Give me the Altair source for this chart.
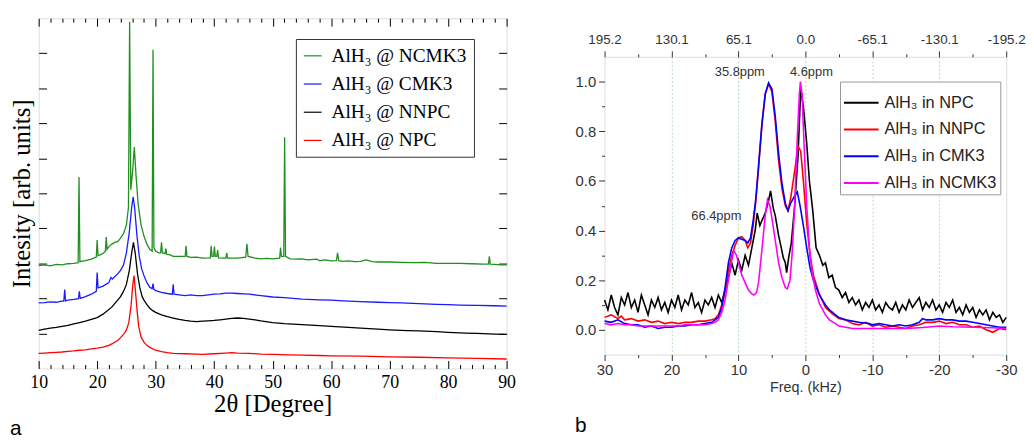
import altair as alt
import pandas as pd

# ---------------- Panel a : XRD patterns ----------------
xrd_names = ["AlH₃ @ NCMK3", "AlH₃ @ CMK3", "AlH₃ @ NNPC", "AlH₃ @ NPC"]
xrd_colors = ["#1f8f1f", "#1a1aff", "#000000", "#ff0000"]

ncmk3_x = [10, 11, 12, 13, 14, 15, 16, 16.75, 16.9, 17.05, 18, 19, 19.85, 20.0, 20.15, 21, 21.4, 21.55, 21.7,
           22, 22.5, 23, 23.5, 24, 24.5, 25, 25.35, 25.55, 25.75, 26.05, 26.35, 26.65, 27, 27.5, 28, 28.5, 29,
           29.4, 29.55, 29.7, 30, 30.5, 30.85, 31.0, 31.15, 31.6, 31.75, 31.9, 32.5, 33, 34, 35.05, 35.2, 35.35,
           36, 37, 38, 39.35, 39.5, 39.65, 39.9, 40.05, 40.2, 40.45, 40.6, 40.75, 41.5, 42.0, 42.15, 42.3, 43, 44,
           45.4, 45.6, 45.8, 47, 48, 49, 50, 51.2, 51.35, 51.5, 51.9, 52.05, 52.2, 53, 54, 55, 56, 57.5, 58, 59,
           60, 60.9, 61.1, 61.3, 62, 63, 64, 65, 66, 67, 68, 70, 72, 74, 76, 78, 80, 82, 84, 86, 86.9, 87.05,
           87.2, 88, 89, 90]
ncmk3_y = [2.94, 2.96, 2.93, 2.97, 2.96, 2.99, 3.0, 3.02, 5.47, 3.05, 3.08, 3.12, 3.18, 3.67, 3.22, 3.28, 3.35,
           3.75, 3.4, 3.48, 3.55, 3.6, 3.62, 3.72, 3.85, 4.1, 4.6, 9.9, 5.1, 5.6, 6.32, 5.5, 4.7, 4.1, 3.78, 3.55,
           3.4, 3.35, 9.1, 3.45, 3.35, 3.3, 3.3, 3.6, 3.3, 3.28, 3.42, 3.26, 3.24, 3.2, 3.2, 3.2, 3.5, 3.2, 3.17,
           3.18, 3.15, 3.16, 3.5, 3.2, 3.2, 3.48, 3.2, 3.2, 3.38, 3.16, 3.15, 3.15, 3.3, 3.15, 3.15, 3.15, 3.18,
           3.56, 3.2, 3.15, 3.13, 3.14, 3.13, 3.15, 3.45, 3.2, 3.2, 6.6, 3.2, 3.13, 3.12, 3.13, 3.1, 3.12, 3.08,
           3.1, 3.07, 3.08, 3.3, 3.08, 3.06, 3.07, 3.05, 3.06, 3.1, 3.05, 3.04, 3.04, 3.03, 3.02, 3.03, 3.0, 3.0,
           3.0, 2.99, 2.98, 2.98, 3.2, 2.98, 2.97, 2.96, 2.96]

cmk3_x = [10, 11, 12, 13, 14, 14.3, 14.45, 14.6, 15, 16, 16.8, 16.95, 17.1, 18, 19, 19.85, 20.0, 20.15, 21, 22,
          22.35, 22.6, 23, 23.5, 24, 24.5, 25, 25.5, 25.9, 26.15, 26.4, 26.8, 27.2, 27.6, 28, 28.5, 29, 29.4,
          29.55, 29.7, 30, 31, 32, 32.85, 33.0, 33.15, 34, 35, 36, 37, 38, 39, 40, 41, 42, 43, 44, 45, 46, 48,
          50, 52, 55, 58, 60, 62, 65, 68, 70, 72, 75, 78, 80, 82, 85, 88, 90]
cmk3_y = [1.87, 1.88, 1.9, 1.89, 1.92, 1.92, 2.25, 1.93, 1.95, 1.97, 1.99, 2.2, 2.0, 2.05, 2.12, 2.2, 2.74, 2.3,
          2.35, 2.45, 2.6, 2.55, 2.62, 2.7, 2.8, 2.95, 3.3, 3.9, 4.6, 4.9, 4.6, 3.8, 3.2, 2.85, 2.65, 2.45, 2.32,
          2.28, 2.42, 2.26, 2.22, 2.17, 2.14, 2.12, 2.4, 2.12, 2.1, 2.08, 2.1, 2.08, 2.08, 2.1, 2.12, 2.13, 2.15,
          2.15, 2.14, 2.13, 2.12, 2.08, 2.04, 2.02, 1.98, 1.96, 1.95, 1.93, 1.91, 1.89, 1.88, 1.87, 1.85, 1.83,
          1.82, 1.81, 1.8, 1.79, 1.78]

nnpc_x = [10, 11, 12, 13, 14, 15, 16, 17, 18, 19, 20, 21, 22, 22.5, 23, 23.5, 24, 24.5, 25, 25.5, 25.9, 26.2,
          26.5, 26.9, 27.3, 27.7, 28, 28.5, 29, 29.5, 30, 31, 32, 33, 34, 35, 36, 37, 38, 39, 40, 41, 42, 43, 44,
          45, 46, 47, 48, 50, 52, 55, 58, 60, 63, 65, 68, 70, 73, 75, 78, 80, 83, 85, 88, 90]
nnpc_y = [1.09, 1.12, 1.15, 1.17, 1.2, 1.23, 1.27, 1.31, 1.35, 1.4, 1.45, 1.55, 1.68, 1.75, 1.85, 1.95, 2.05, 2.2,
          2.4, 2.8, 3.3, 3.6, 3.3, 2.7, 2.3, 2.05, 1.95, 1.82, 1.72, 1.65, 1.6, 1.53, 1.48, 1.44, 1.4, 1.37, 1.35,
          1.34, 1.35, 1.36, 1.37, 1.39, 1.41, 1.43, 1.44, 1.43, 1.41, 1.39, 1.36, 1.31, 1.28, 1.25, 1.22, 1.2,
          1.17, 1.15, 1.12, 1.1, 1.08, 1.07, 1.05, 1.03, 1.01, 1.0, 0.98, 0.97]

npc_x = [10, 11, 12, 13, 14, 15, 16, 17, 18, 19, 20, 21, 22, 22.5, 23, 23.5, 24, 24.5, 25, 25.4, 25.8, 26.1, 26.3,
         26.5, 26.8, 27.1, 27.5, 28, 28.5, 29, 30, 31, 32, 33, 35, 37, 38, 40, 42, 43, 44, 46, 48, 50, 53, 55,
         58, 60, 65, 70, 75, 80, 85, 90]
npc_y = [0.43, 0.44, 0.45, 0.46, 0.47, 0.49, 0.5, 0.52, 0.53, 0.56, 0.58, 0.61, 0.66, 0.7, 0.75, 0.8, 0.88, 0.97,
         1.1, 1.3, 1.8, 2.4, 2.65, 2.3, 1.7, 1.2, 0.9, 0.75, 0.66, 0.6, 0.52, 0.48, 0.45, 0.43, 0.42, 0.41, 0.4,
         0.42, 0.44, 0.45, 0.44, 0.43, 0.41, 0.4, 0.39, 0.38, 0.37, 0.36, 0.35, 0.33, 0.32, 0.3, 0.29, 0.27]

# ---------------- Panel b : 27Al NMR ----------------
nmr_names = ["AlH₃ in NPC", "AlH₃ in NNPC", "AlH₃ in CMK3", "AlH₃ in NCMK3"]
nmr_colors = ["#000000", "#ff0000", "#0000ff", "#ff00ff"]

npc_b_x = [30, 29.5, 29, 28.5, 28, 27.5, 27, 26.5, 26, 25.5, 25, 24.5, 24, 23.5, 23, 22.5, 22, 21.5, 21, 20.5, 20,
           19.5, 19, 18.5, 18, 17.5, 17, 16.5, 16, 15.5, 15, 14.5, 14, 13.5, 13, 12.5, 12, 11.5, 11, 10.5, 10,
           9.5, 9, 8.5, 8, 7.5, 7.2, 6.8, 6.5, 6, 5.5, 5.2, 4.8, 4.5, 4, 3.6, 3.3, 3, 2.8, 2.5, 2.1, 1.6, 1.1,
           0.7, 0.3, -0.2, -0.6, -1.1, -1.6, -2.1, -2.6, -3, -3.5, -4, -4.5, -5, -5.5, -6, -6.5, -7, -7.5, -8,
           -8.5, -9, -9.5, -10, -10.5, -11, -11.5, -12, -12.5, -13, -13.5, -14, -14.5, -15, -15.5, -16, -16.5,
           -17, -17.5, -18, -18.5, -19, -19.5, -20, -20.5, -21, -21.5, -22, -22.5, -23, -23.5, -24, -24.5, -25,
           -25.5, -26, -26.5, -27, -27.5, -28, -28.5, -29, -29.5, -30]
npc_b_y = [0.12, 0.08, 0.14, 0.09, 0.06, 0.13, 0.1, 0.15, 0.09, 0.12, 0.07, 0.14, 0.1, 0.06, 0.12, 0.09, 0.13,
           0.08, 0.11, 0.07, 0.12, 0.09, 0.14, 0.08, 0.12, 0.1, 0.15, 0.09, 0.11, 0.07, 0.12, 0.1, 0.13, 0.09,
           0.14, 0.11, 0.16, 0.21, 0.27, 0.22, 0.28, 0.24, 0.3, 0.26, 0.33, 0.4, 0.47, 0.42, 0.44, 0.47, 0.52,
           0.56, 0.49, 0.46, 0.38, 0.33, 0.29, 0.27, 0.23, 0.29, 0.35, 0.5, 0.7, 0.97, 0.9, 0.75, 0.6, 0.48,
           0.33, 0.3, 0.26, 0.27, 0.21, 0.22, 0.17, 0.16, 0.13, 0.15, 0.11, 0.13, 0.1, 0.12, 0.08, 0.11, 0.09,
           0.12, 0.08, 0.1, 0.07, 0.11, 0.09, 0.08, 0.11, 0.07, 0.1, 0.08, 0.12, 0.09, 0.11, 0.13, 0.08, 0.11,
           0.09, 0.12, 0.08, 0.1, 0.07, 0.11, 0.09, 0.12, 0.07, 0.09, 0.06, 0.1, 0.07, 0.09, 0.05, 0.08, 0.06,
           0.08, 0.04, 0.07, 0.05, 0.06, 0.03, 0.05]

nnpc_b_x = [30, 29, 28, 27.5, 27, 26, 25, 24, 23, 22, 21, 20, 19, 18, 17, 16, 15, 14, 13.5, 13, 12.5, 12, 11.5, 11,
            10.5, 10, 9.5, 9, 8.6, 8.2, 7.8, 7.4, 7, 6.5, 6, 5.5, 5, 4.5, 4, 3.5, 3, 2.6, 2.2, 1.6, 1.1, 0.7, 0.3,
            -0.2, -0.7, -1.2, -2, -2.5, -3, -4, -5, -6, -7, -8, -9, -10, -11, -12, -13, -14, -15, -16, -17, -18,
            -19, -20, -21, -22, -23, -24, -25, -26, -27, -28, -29, -30]
nnpc_b_y = [0.05, 0.06, 0.045, 0.055, 0.04, 0.045, 0.035, 0.04, 0.03, 0.035, 0.025, 0.03, 0.025, 0.03, 0.03, 0.035,
            0.035, 0.04, 0.045, 0.06, 0.1, 0.15, 0.24, 0.3, 0.34, 0.37, 0.375, 0.36, 0.33, 0.35, 0.42, 0.52, 0.65,
            0.82, 0.95, 0.99, 0.96, 0.84, 0.68, 0.57, 0.5, 0.48, 0.53, 0.64, 0.74, 0.72, 0.6, 0.43, 0.3, 0.22,
            0.15, 0.12, 0.09, 0.065, 0.045, 0.04, 0.025, 0.02, 0.03, 0.015, 0.02, 0.01, 0.015, 0.01, 0.005, 0.015,
            0.02, 0.03, 0.03, 0.035, 0.025, 0.03, 0.02, 0.02, 0.01, 0.015, 0.0, -0.01, 0.005, 0.0]

cmk3_b_x = [30, 29, 28, 27, 26, 25, 24, 23, 22, 21, 20, 19, 18, 17, 16, 15, 14, 13.5, 13, 12.5, 12, 11.5, 11, 10.5,
            10, 9.5, 9, 8.6, 8.2, 7.8, 7.4, 7, 6.5, 6, 5.5, 5, 4.5, 4, 3.5, 3, 2.6, 2.2, 1.6, 1.2, 0.8, 0.3, -0.2,
            -0.7, -1.2, -2.1, -3, -3.6, -4.5, -5, -6, -7, -8, -9.5, -10, -11, -12, -13, -14, -15, -16, -17, -17.5,
            -18, -19, -20, -21, -22, -23, -24, -25, -26, -27, -28, -29, -30]
cmk3_b_y = [0.035, 0.03, 0.04, 0.025, 0.02, 0.02, 0.01, 0.015, 0.005, 0.01, 0.01, 0.015, 0.015, 0.02, 0.02, 0.025,
            0.03, 0.04, 0.05, 0.09, 0.17, 0.27, 0.33, 0.36, 0.37, 0.365, 0.36, 0.35, 0.37, 0.44, 0.53, 0.66, 0.83,
            0.95, 0.995, 0.97, 0.86, 0.71, 0.59, 0.51, 0.48, 0.51, 0.54, 0.555, 0.5, 0.42, 0.33, 0.25, 0.2, 0.14,
            0.1, 0.08, 0.06, 0.05, 0.04, 0.035, 0.03, 0.025, 0.02, 0.025, 0.02, 0.015, 0.02, 0.015, 0.02, 0.03,
            0.045, 0.04, 0.04, 0.045, 0.04, 0.04, 0.035, 0.035, 0.03, 0.025, 0.02, 0.015, 0.01, 0.01]

ncmk3_b_x = [30, 29, 28, 27, 26, 25, 24, 23, 22, 21, 20, 19, 18, 17, 16, 15, 14, 13.5, 13, 12.5, 12, 11.5, 11, 10.7,
             10.3, 10, 9.5, 9, 8.5, 8, 7.7, 7.3, 7, 6.5, 6, 5.66, 5.3, 5, 4.5, 4, 3.5, 3, 2.7, 2.3, 2, 1.6, 1.2,
             0.9, 0.74, 0.5, 0.2, -0.2, -0.6, -1, -1.5, -2.1, -3, -3.6, -4.5, -5, -6, -7, -8, -10, -12, -15, -17,
             -18, -20, -22, -25, -28, -30]
ncmk3_b_y = [0.025, 0.02, 0.025, 0.02, 0.02, 0.015, 0.015, 0.015, 0.015, 0.015, 0.015, 0.015, 0.02, 0.02, 0.02,
             0.02, 0.025, 0.03, 0.04, 0.07, 0.12, 0.2, 0.28, 0.32, 0.3, 0.27, 0.22, 0.19, 0.16, 0.145, 0.14, 0.15,
             0.19, 0.32, 0.46, 0.525, 0.5, 0.45, 0.36, 0.27, 0.21, 0.17, 0.165, 0.2, 0.3, 0.5, 0.78, 0.95, 1.0,
             0.95, 0.75, 0.5, 0.33, 0.23, 0.16, 0.105, 0.06, 0.04, 0.025, 0.015, 0.01, 0.005, 0.005, 0.005, 0.005,
             0.005, 0.008, 0.01, 0.015, 0.012, 0.01, 0.008, 0.005]

ann_text = ["35.8ppm", "4.6ppm", "66.4ppm"]
ann_x = [9.8, -0.9, 13.3]
ann_y = [1.04, 1.04, 0.46]

bottom_ticks_a = [10, 20, 30, 40, 50, 60, 70, 80, 90]
minor_ticks_a = [v for v in range(12, 90, 2) if v % 10 != 0]
y_ticks_a = [1, 2, 3, 4, 5, 6, 7, 8, 9]

major_khz = [30, 20, 10, 0, -10, -20, -30]
minor_khz = [25, 15, 5, -5, -15, -25]
grid_khz = [20, 10, 0, -10, -20]
y_ticks_b = [0.0, 0.2, 0.4, 0.6, 0.8, 1.0]
y_minor_b = [0.1, 0.3, 0.5, 0.7, 0.9]
ppm_per_khz = 6.507


def make_df(names, xs_list, ys_list):
    frames = []
    for n, xs, ys in zip(names, xs_list, ys_list):
        frames.append(pd.DataFrame({"x": xs, "y": ys, "series": n}))
    return frames


xrd_frames = make_df(xrd_names, [ncmk3_x, cmk3_x, nnpc_x, npc_x], [ncmk3_y, cmk3_y, nnpc_y, npc_y])
xrd_df = pd.concat(xrd_frames, ignore_index=True)
nmr_frames = make_df(nmr_names, [npc_b_x, nnpc_b_x, cmk3_b_x, ncmk3_b_x],
                     [npc_b_y, nnpc_b_y, cmk3_b_y, ncmk3_b_y])
ann_df = pd.DataFrame({"x": ann_x, "y": ann_y, "t": ann_text})

SERIF = "Liberation Serif"
SANS = "Liberation Sans"
W_A, H_A = 473, 354
W_B, H_B = 406, 301

# ---------- panel a ----------
xa = alt.Scale(domain=[10, 90], nice=False, zero=False)
ya = alt.Scale(domain=[0, 10], nice=False, zero=False)
tick_only = dict(labels=False, domain=False, grid=False, title=None, tickColor="black", tickWidth=1)

lines_a = alt.Chart(xrd_df).mark_line(strokeWidth=1.3).encode(
    x=alt.X("x:Q", scale=xa, axis=alt.Axis(orient="bottom", values=bottom_ticks_a, ticks=False, domain=False,
                                           grid=False, labelFont=SERIF, labelFontSize=18, labelColor="black",
                                           labelPadding=5, labelFlush=False, title="2θ [Degree]",
                                           titleFont=SERIF, titleFontSize=25, titleFontWeight="normal",
                                           titleColor="black", titlePadding=1)),
    y=alt.Y("y:Q", scale=ya, axis=alt.Axis(orient="left", labels=False, ticks=False, domain=False, grid=False,
                                           title="Intesity [arb. units]", titleFont=SERIF, titleFontSize=25,
                                           titleFontWeight="normal", titleColor="black", titlePadding=4)),
    color=alt.Color("series:N", scale=alt.Scale(domain=xrd_names, range=xrd_colors),
                    legend=alt.Legend(orient="none", legendX=260, legendY=21, title=None, symbolType="stroke",
                                      symbolSize=324, symbolStrokeWidth=1.2, labelFont=SERIF, labelFontSize=19.5,
                                      labelColor="black", labelLimit=0, strokeColor="#333333", fillColor="white",
                                      padding=7, rowPadding=8.5, labelOffset=9)),
    detail="series:N",
)


def ghost_a(xaxis, yaxis):
    return alt.Chart(xrd_df.head(2)).mark_point(opacity=0).encode(
        x=alt.X("x:Q", scale=xa, axis=xaxis),
        y=alt.Y("y:Q", scale=ya, axis=yaxis),
    )


ga1 = ghost_a(alt.Axis(orient="top", offset=-H_A, values=bottom_ticks_a, tickSize=8, **tick_only),
              alt.Axis(orient="right", offset=-W_A, values=y_ticks_a, tickSize=8, **tick_only))
ga2 = ghost_a(alt.Axis(orient="top", offset=-H_A, values=minor_ticks_a, tickSize=4, **tick_only),
              alt.Axis(orient="left", offset=-W_A, values=y_ticks_a, tickSize=8, **tick_only))
ga3 = ghost_a(alt.Axis(orient="bottom", offset=-H_A, values=bottom_ticks_a, tickSize=8, **tick_only), None)
ga4 = ghost_a(alt.Axis(orient="bottom", offset=-H_A, values=minor_ticks_a, tickSize=4, **tick_only), None)

panel_a = alt.layer(lines_a, ga1, ga2, ga3, ga4).resolve_axis(x="independent", y="independent").properties(
    width=W_A, height=H_A,
    title=alt.TitleParams("a", orient="bottom", anchor="start", frame="bounds", font=SANS, fontSize=21,
                          fontWeight="normal", color="black", offset=1),
)

# ---------- panel b ----------
xb = alt.Scale(domain=[30, -30], nice=False, zero=False)
yb = alt.Scale(domain=[-0.1, 1.1], nice=False, zero=False)
nmr_color = alt.Scale(domain=nmr_names, range=nmr_colors)
legend_b = alt.Legend(orient="none", legendX=238, legendY=25, title=None, symbolType="stroke", symbolSize=1225,
                      symbolStrokeWidth=2, labelFont=SANS, labelFontSize=16.5, labelColor="#222222", labelLimit=0,
                      strokeColor="#999999", fillColor="white", padding=3, rowPadding=0, labelOffset=5)
tick_b = dict(labels=False, domain=False, grid=False, title=None, tickColor="#333333", tickWidth=1)


def ghost_b(xaxis, yaxis):
    return alt.Chart(nmr_frames[0].head(2)).mark_point(opacity=0).encode(
        x=alt.X("x:Q", scale=xb, axis=xaxis),
        y=alt.Y("y:Q", scale=yb, axis=yaxis),
    )


grid_b = ghost_b(alt.Axis(orient="bottom", values=grid_khz, grid=True, gridColor="#b9dcb9", gridDash=[2, 2],
                          gridWidth=1, ticks=False, labels=False, domain=False, title=None), None)

line_layers = []
for i, fr in enumerate(nmr_frames):
    if i == 0:
        xax = alt.Axis(orient="bottom", values=major_khz, tickSize=6, tickColor="#333333", domain=False,
                       grid=False, labelExpr="replace(format(datum.value, 'd'), '−', '-')",
                       labelFont=SANS, labelFontSize=15, labelColor="#333333", labelPadding=2, labelFlush=False,
                       title="Freq. (kHz)", titleFont=SANS, titleFontSize=14.5, titleFontWeight="normal",
                       titleColor="#333333", titlePadding=3)
        yax = alt.Axis(orient="left", values=y_ticks_b, format=".1f", tickSize=6, tickColor="#333333",
                       domain=False, grid=False, labelFont=SANS, labelFontSize=15, labelColor="#333333",
                       labelPadding=3, title=None)
    else:
        xax = None
        yax = None
    line_layers.append(
        alt.Chart(fr).mark_line(strokeWidth=1.6).encode(
            x=alt.X("x:Q", scale=xb, axis=xax),
            y=alt.Y("y:Q", scale=yb, axis=yax),
            color=alt.Color("series:N", scale=nmr_color, legend=legend_b),
        )
    )

gb1 = ghost_b(alt.Axis(orient="bottom", values=minor_khz, tickSize=3, **tick_b),
              alt.Axis(orient="left", values=y_minor_b, tickSize=3, **tick_b))
gb2 = ghost_b(alt.Axis(orient="top", values=major_khz, tickSize=6, tickColor="#333333", domain=False, grid=False,
                       labelExpr=f"replace(format(datum.value * {ppm_per_khz}, '.1f'), '−', '-')",
                       labelFont=SANS, labelFontSize=13.5, labelColor="#333333", labelPadding=4,
                       labelFlush=False, title=" ", titleFontSize=10, titlePadding=0), None)
gb3 = ghost_b(alt.Axis(orient="top", values=minor_khz, tickSize=3, **tick_b), None)

ann = alt.Chart(ann_df).mark_text(font=SANS, fontSize=13, color="#333333").encode(
    x=alt.X("x:Q", scale=xb, axis=None),
    y=alt.Y("y:Q", scale=yb, axis=None),
    text="t:N",
)

panel_b = alt.layer(grid_b, *line_layers, gb1, gb2, gb3, ann).resolve_axis(
    x="independent", y="independent").properties(
    width=W_B, height=H_B,
    title=alt.TitleParams("b", orient="bottom", anchor="start", frame="bounds", font=SANS, fontSize=21,
                          fontWeight="normal", color="black", offset=22),
)

# invisible 1px spacer so panel b's top axis sits below panel a's top edge
spacer = alt.Chart(pd.DataFrame({"x": [0]})).mark_point(opacity=0).encode(
    x=alt.X("x:Q", axis=None)).properties(width=W_B, height=1, view=alt.ViewBackground(stroke="transparent"))

column_b = alt.vconcat(spacer, panel_b, spacing=0).resolve_scale(color="independent").resolve_legend(
    color="independent")

chart = alt.hconcat(panel_a, column_b, spacing=58).resolve_scale(color="independent").resolve_legend(
    color="independent").configure_view(stroke="black", strokeWidth=1).configure(
    padding={"left": 1, "top": 5, "right": 0, "bottom": 0}, background="white")

chart.save("out.html", embed_options={"renderer": "svg", "actions": False})
